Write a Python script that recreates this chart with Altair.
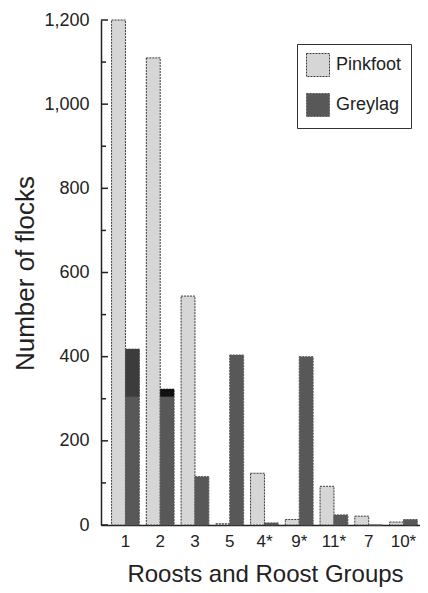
import altair as alt
import pandas as pd

roosts = ["1", "2", "3", "5", "4*", "9*", "11*", "7", "10*"]
pinkfoot = [1200, 1110, 544, 3, 123, 13, 92, 21, 7]
greylag = [418, 323, 115, 404, 5, 400, 24, 0, 13]
species = ["Pinkfoot", "Greylag"]
y_major = [0, 200, 400, 600, 800, 1000, 1200]
y_minor = [100, 300, 500, 700, 900, 1100]

# darker upper part of the Greylag bars at roosts 1 and 2 (as printed)
shade_roosts = ["1", "2"]
shade_from = [305, 305]
shade_to = [418, 323]
shade_tone = ["a", "b"]

rows = []
for i, r in enumerate(roosts):
    rows.append({"roost": r, "species": "Pinkfoot", "value": pinkfoot[i]})
    rows.append({"roost": r, "species": "Greylag", "value": greylag[i]})
df = pd.DataFrame(rows)

shade_df = pd.DataFrame(
    {
        "roost": shade_roosts,
        "species": ["Greylag"] * len(shade_roosts),
        "value": shade_from,
        "top": shade_to,
        "tone": shade_tone,
    }
)

major_df = pd.DataFrame({"value": y_major})
minor_df = pd.DataFrame({"value": y_minor})

FONT = "Liberation Sans"
INK = "#222222"

x_enc = alt.X(
    "roost:N",
    sort=roosts,
    scale=alt.Scale(paddingInner=0.2, paddingOuter=0.19, align=0.8),
    axis=alt.Axis(
        title="Roosts and Roost Groups",
        ticks=False,
        labelAngle=0,
        labelFont=FONT,
        labelFontSize=17,
        labelColor=INK,
        labelPadding=8,
        domainColor=INK,
        domainWidth=1.5,
        titleFont=FONT,
        titleFontSize=24,
        titleFontWeight="normal",
        titleColor=INK,
        titleAlign="center",
        titleBaseline="alphabetic",
        titleX=164,
        titleY=56,
    ),
)
xoff_enc = alt.XOffset(
    "species:N",
    sort=species,
    scale=alt.Scale(domain=species, paddingInner=0, paddingOuter=0),
)

bars = alt.Chart(df).mark_bar(strokeWidth=1, strokeDash=[2, 1]).encode(
    x=x_enc,
    xOffset=xoff_enc,
    y=alt.Y(
        "value:Q",
        scale=alt.Scale(domain=[0, 1200], nice=False),
        axis=alt.Axis(
            title="Number of flocks",
            values=y_major,
            format=",d",
            ticks=False,
            grid=False,
            labelFont=FONT,
            labelFontSize=18,
            labelColor=INK,
            labelPadding=12,
            domainColor=INK,
            domainWidth=1.5,
            titleFont=FONT,
            titleFontSize=26,
            titleFontWeight="normal",
            titleColor=INK,
            titleAngle=270,
            titleAlign="center",
            titleBaseline="alphabetic",
            titleX=-68,
            titleY=253,
        ),
    ),
    fill=alt.Fill(
        "species:N",
        scale=alt.Scale(domain=species, range=["#d6d6d6", "#585858"]),
        legend=alt.Legend(
            title=None,
            orient="none",
            legendX=196,
            legendY=24,
            strokeColor="#333333",
            fillColor="#ffffff",
            padding=9,
            symbolType="square",
            symbolSize=529,
            symbolStrokeWidth=1,
            symbolDash=[2, 1],
            labelFont=FONT,
            labelFontSize=18,
            labelColor=INK,
            labelOffset=6,
            rowPadding=12,
        ),
    ),
    stroke=alt.Stroke(
        "species:N",
        scale=alt.Scale(domain=species, range=["#3a3a3a", "#585858"]),
        legend=None,
    ),
)

shade = alt.Chart(shade_df).mark_bar().encode(
    x=alt.X("roost:N", sort=roosts),
    xOffset=alt.XOffset("species:N", sort=species),
    y="value:Q",
    y2="top:Q",
    color=alt.Color(
        "tone:N",
        scale=alt.Scale(domain=shade_tone, range=["#3c3c3c", "#111111"]),
        legend=None,
    ),
)

major_ticks = alt.Chart(major_df).mark_rule(color=INK, strokeWidth=1.5).encode(
    y="value:Q", x=alt.value(0), x2=alt.value(7)
)
minor_ticks = alt.Chart(minor_df).mark_rule(color=INK, strokeWidth=1.5).encode(
    y="value:Q", x=alt.value(0), x2=alt.value(5)
)

chart = (
    alt.layer(bars, shade, major_ticks, minor_ticks)
    .resolve_scale(color="independent")
    .properties(
        width=319,
        height=505,
        autosize=alt.AutoSizeParams(type="none"),
        padding={"left": 93, "top": 12, "right": 0, "bottom": 65},
        background="white",
    )
    .configure_view(stroke=None)
)

chart.save("out.html", embed_options={"renderer": "svg", "actions": False})
